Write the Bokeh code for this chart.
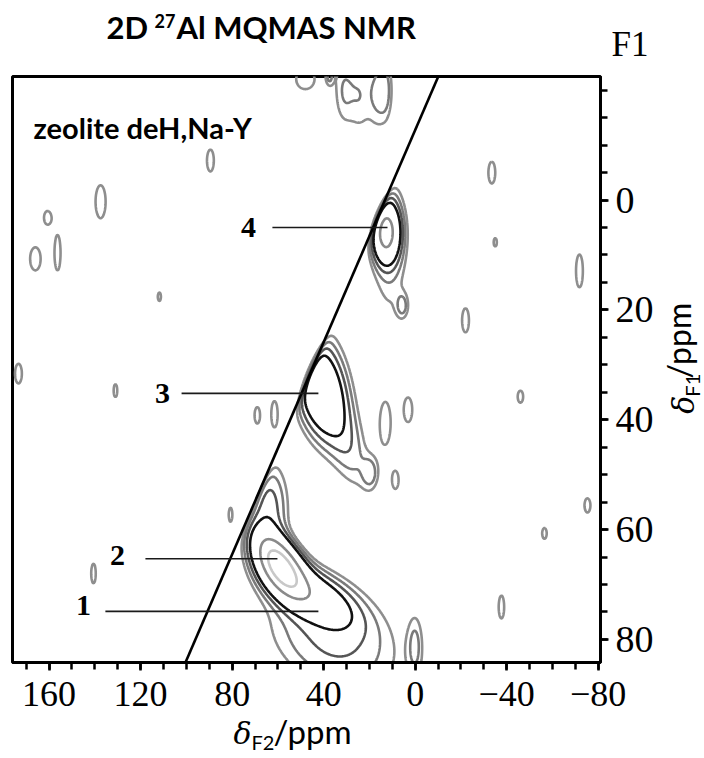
import numpy as np
from bokeh.plotting import figure
from bokeh.models import Range1d, FixedTicker, LinearAxis, Label
from bokeh.layouts import column, row
from bokeh.embed import file_html
from bokeh.resources import INLINE

# ---------------- data (ppm) ----------------
# main resonances: centre (F2, F1), widths, correlation, intensity
peak_names = ["2", "1", "1-base", "2-top", "3", "3-broad", "3-tail", "4", "4-broad"]
peak_f2 = [59.0, 46.0, 36.0, 64.0, 41.5, 40.0, 29.0, 12.8, 11.0]
peak_f1 = [66.5, 71.5, 80.0, 56.0, 34.5, 33.0, 45.0, 5.8, 8.5]
peak_w2 = [7.0, 13.0, 20.0, 6.0, 7.0, 9.0, 7.0, 3.7, 6.0]
peak_w1 = [3.7, 3.8, 7.0, 6.0, 5.5, 9.0, 6.0, 3.4, 10.0]
peak_rho = [-0.55, -0.6, -0.3, 0.0, -0.3, -0.2, -0.5, 0.0, 0.0]
peak_amp = [14.0, 4.5, 2.4, 2.6, 5.5, 1.2, 1.6, 9.0, 1.6]

# weak noise islands (F2, F1, half widths)
noise_f2 = [137.5, 160.7, 166.0, 156.3, 111.8, 173.4, 131.0, 89.5, 48.0, 37.5, 31.5, 24.0,
            16.5, 12.5, -33.5, -35.0, -71.8, 5.5, -22.0, -46.0, 13.0, 3.1, 19.5, 8.6,
            -75.3, -56.5, -37.7, 0.0, 80.7, 140.6, 69.0, 61.5]
noise_f1 = [0.3, 3.2, 10.7, 9.6, 17.6, 31.6, 34.7, -7.2, -22.0, -22.5, -20.0, -19.0,
            -19.5, -20.0, -5.0, 7.7, 12.9, 19.3, 21.9, 35.8, 40.6, 38.2, 49.7, 51.0,
            55.6, 60.7, 74.1, 81.0, 57.3, 68.0, 39.2, 39.0]
noise_h2 = [2.2, 1.5, 2.3, 1.3, 0.7, 1.5, 0.8, 1.5, 4.0, 1.0, 2.6, 3.0,
            2.2, 1.8, 1.5, 0.7, 1.5, 1.5, 1.5, 1.2, 2.2, 1.8, 2.0, 1.3,
            1.3, 1.0, 1.2, 2.0, 0.8, 1.0, 1.2, 1.4]
noise_h1 = [3.0, 1.2, 2.1, 3.2, 0.8, 1.8, 1.2, 2.0, 1.8, 1.0, 4.0, 4.3,
            4.0, 3.5, 2.0, 0.8, 3.0, 1.3, 2.2, 1.1, 3.6, 2.2, 1.7, 1.5,
            1.3, 1.0, 2.1, 3.5, 1.3, 1.8, 1.5, 2.4]

levels = [1.0, 1.5, 2.2, 3.2, 8.0, 12.5]
level_colors = ["#8e8e8e", "#7a7a7a", "#555555", "#111111", "#8a8a8a", "#c8c8c8"]

# diagonal reference line (F2, F1)
diag_f2 = [100.4, -10.1]
diag_f1 = [84.2, -22.5]

# peak labels and their leader lines
lab_text = ["4", "3", "2", "1"]
lab_f2 = [72.9, 110.4, 130.1, 145.0]
lab_f1 = [5.0, 35.2, 64.8, 73.9]
lead_f2_start = [62.4, 102.1, 117.9, 135.4]
lead_f2_end = [12.1, 42.3, 60.2, 42.3]
lead_f1 = [5.0, 35.2, 65.3, 74.9]

x_ticks = [160, 120, 80, 40, 0, -40, -80]
y_ticks = [0, 20, 40, 60, 80]

X_START, X_END = 176.0, -81.0
Y_TOP, Y_BOTTOM = -22.5, 84.2

# ---------------- field ----------------
gx = np.linspace(-86, 181, 535)
gy = np.linspace(-26, 88, 457)
GX, GY = np.meshgrid(gx, gy)

def line_f2(f1):
    return diag_f2[0] + (f1 - diag_f1[0]) * (diag_f2[1] - diag_f2[0]) / (diag_f1[1] - diag_f1[0])

def gauss(cx, cy, sx, sy, rho, a):
    u = (GX - cx) / sx
    v = (GY - cy) / sy
    q = (u * u - 2 * rho * u * v + v * v) / (1 - rho * rho)
    return a * np.exp(-0.5 * q)

main = np.zeros_like(GX)
for i in range(len(peak_f2)):
    main += gauss(peak_f2[i], peak_f1[i], peak_w2[i], peak_w1[i], peak_rho[i], peak_amp[i])
cut = 1.0 / (1.0 + np.exp(-(line_f2(GY) - GX) / 1.2))
Z = main * cut
r0 = np.sqrt(2 * np.log(1.35))
for i in range(len(noise_f2)):
    Z += gauss(noise_f2[i], noise_f1[i], noise_h2[i] / r0, noise_h1[i] / r0, 0.0, 1.35)

# ---------------- layout geometry (page pixels) ----------------
TOTAL_W = 703
TITLE_H = 74
MAIN_W, MAIN_H = 676, 648          # main figure: y 74..722
YLAB_OVER = 18                     # y-label strip overlaps main figure border
XLAB_OVER = 14                     # x-label strip overlaps main figure border
MAIN_BOTTOM = TITLE_H + MAIN_H
PAGE_BOTTOM = 756


def blank_fig(w, h, x0, x1, y_top, y_bottom, transparent=False):
    f = figure(width=w, height=h, output_backend="svg", toolbar_location=None,
               x_range=Range1d(x0, x1), y_range=Range1d(y_bottom, y_top),
               x_axis_location=None, y_axis_location=None,
               min_border=0, min_border_left=0, min_border_right=0,
               min_border_top=0, min_border_bottom=0)
    f.grid.visible = False
    f.outline_line_color = None
    fill = None if transparent else "white"
    f.background_fill_color = fill
    f.border_fill_color = fill
    return f


def lab(f, px, py, text, **kw):
    opts = dict(text_font="Lato", text_color="black", text_baseline="middle", text_align="left")
    opts.update(kw)
    f.add_layout(Label(x=px, y=py, text=text, **opts))

# ---- title strip ----
tf = blank_fig(TOTAL_W, TITLE_H, 0, TOTAL_W, 0, TITLE_H)
lab(tf, 106, 26, "2D", text_font_style="bold", text_font_size="31px")
lab(tf, 154, 20, "27", text_font_style="bold", text_font_size="18px")
lab(tf, 176, 26, "Al MQMAS NMR", text_font_style="bold", text_font_size="31px")
lab(tf, 611, 44, "F1", text_font="Liberation Serif", text_font_size="35px")

# ---- main plot ----
p = figure(width=MAIN_W, height=MAIN_H, output_backend="svg", toolbar_location=None,
           x_range=Range1d(X_START, X_END), y_range=Range1d(Y_BOTTOM, Y_TOP),
           x_axis_location=None, y_axis_location=None,
           min_border_left=12, min_border_right=76, min_border_top=2, min_border_bottom=60)
p.grid.visible = False
p.outline_line_color = "black"
p.outline_line_width = 3
p.background_fill_color = "white"
p.border_fill_color = "white"

xa = LinearAxis(ticker=FixedTicker(ticks=x_ticks, minor_ticks=list(range(-80, 180, 10))))
ya = LinearAxis(ticker=FixedTicker(ticks=y_ticks, minor_ticks=list(range(-20, 90, 5))))
for ax in (xa, ya):
    ax.axis_line_width = 3
    ax.axis_line_color = "black"
    ax.major_tick_in = 0
    ax.major_tick_out = 8
    ax.minor_tick_in = 0
    ax.minor_tick_out = 7
    ax.major_tick_line_width = 2.5
    ax.minor_tick_line_width = 2.5
    ax.major_label_text_font = "Liberation Serif"
    ax.major_label_text_color = "black"
xa.major_label_text_font_size = "36px"
ya.major_label_text_font_size = "38px"
xa.major_label_standoff = 11
ya.major_label_standoff = 7
p.add_layout(xa, "below")
p.add_layout(ya, "right")

p.contour(x=GX, y=GY, z=Z, levels=levels, line_color=level_colors, line_width=2.6)

p.line(diag_f2, diag_f1, line_color="black", line_width=2.6)

for i in range(len(lab_text)):
    p.line([lead_f2_start[i], lead_f2_end[i]], [lead_f1[i], lead_f1[i]],
           line_color="#1a1a1a", line_width=1.6)
    p.add_layout(Label(x=lab_f2[i], y=lab_f1[i], text=lab_text[i], text_align="center",
                       text_baseline="middle", text_font="Liberation Serif",
                       text_font_style="bold", text_font_size="30px", text_color="black"))

p.add_layout(Label(x=X_START - (33 - 12) * (X_START - X_END) / 588.0,
                   y=Y_TOP + (127 - 76) * (Y_BOTTOM - Y_TOP) / 586.0,
                   text="zeolite deH,Na-Y", text_font="Lato", text_font_style="bold",
                   text_font_size="29px", text_color="black", text_baseline="middle"))

# ---- y-axis label strip (page coordinates, rotated text), overlapping transparently ----
ylx0 = MAIN_W - YLAB_OVER
yf = blank_fig(TOTAL_W - ylx0, MAIN_H, ylx0, TOTAL_W, TITLE_H, MAIN_BOTTOM, transparent=True)
yf.margin = (0, 0, 0, -YLAB_OVER)
ang = np.pi / 2
lab(yf, 683, 447, "δ", text_font="DejaVu Serif", text_font_style="italic", text_font_size="30px", angle=ang)
lab(yf, 691, 428, "F1", text_font="Lato", text_font_size="20px", angle=ang)
lab(yf, 678, 408, "/ppm", text_font="Lato", text_font_size="32px", angle=ang)

# ---- x-axis label strip (page coordinates), overlapping transparently ----
xly0 = MAIN_BOTTOM - XLAB_OVER
xf = blank_fig(TOTAL_W, PAGE_BOTTOM - xly0, 0, TOTAL_W, xly0, PAGE_BOTTOM, transparent=True)
xf.margin = (-XLAB_OVER, 0, 0, 0)
lab(xf, 233, 733, "δ", text_font="DejaVu Serif", text_font_style="italic", text_font_size="30px")
lab(xf, 251, 741, "F2", text_font="Lato", text_font_size="20px")
lab(xf, 273, 730, "/ppm", text_font="Lato", text_font_size="33px")

layout = column(tf, row(p, yf), xf)
open("out.html", "w").write(file_html(layout, INLINE))
